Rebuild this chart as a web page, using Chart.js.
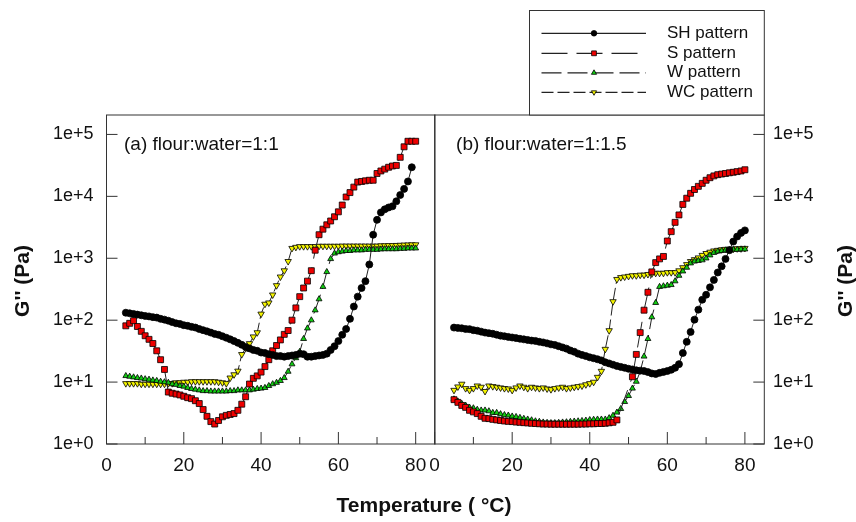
<!DOCTYPE html>
<html><head><meta charset="utf-8">
<script src="https://cdn.jsdelivr.net/npm/chart.js@4.4.1/dist/chart.umd.min.js"></script>
<style>
html,body{margin:0;padding:0;background:#fff;}
#wrap{position:relative;width:856px;height:522px;overflow:hidden;background:#fff;}
#wrap canvas{position:absolute;left:0;top:0;}
</style></head>
<body><div id="wrap"><canvas id="ca" width="856" height="522"></canvas><canvas id="cb" width="856" height="522"></canvas></div>
<script>
// ---- data ----
const temps = [5,6,7,8,9,10,11,12,13,14,15,16,17,18,19,20,21,22,23,24,25,26,27,28,29,30,31,32,33,34,35,36,37,38,39,40,41,42,43,44,45,46,47,48,49,50,51,52,53,54,55,56,57,58,59,60,61,62,63,64,65,66,67,68,69,70,71,72,73,74,75,76,77,78,79,80];

// panel (a) flour:water = 1:1
const shA = [132,129,126,123,120,117,115,112,110,105,102,98,93,89,87,83,81,78,76,72,69,66,63,60,58,55,52,49,46,43,40,37,35,33,32,30,29.5,28.2,27.5,26.3,26.3,25.7,26.3,26.9,27.5,28.8,28.2,25.7,25.7,26.3,26.9,27.5,28.8,33,38,46,58,72,105,166,240,331,427,794,2400,4170,5500,6170,6610,6920,8320,10500,13200,17400,29500,null];
const sA = [81,89,98,79,66,56,49,42,32,23,16,6.9,6.6,6.4,6.2,5.9,5.6,5.4,5.0,4.5,3.6,2.8,2.3,2.1,2.4,2.75,2.9,3.0,3.1,3.5,4.4,5.8,9.3,11.5,12.6,14.5,17.8,23,32,39,48,59,68,100,158,240,331,427,630,1350,2400,2950,3470,4000,4680,5620,7240,9770,11500,14100,17000,17400,17800,18200,18200,23400,25700,27500,29500,30900,31600,42700,63100,77600,77600,77600];
const wA = [12.6,12.3,12.0,11.7,11.5,11.2,11.0,10.7,10.5,10.2,10.0,9.8,9.3,9.1,8.7,8.5,8.1,7.8,7.6,7.4,7.2,7.2,7.1,7.1,7.1,7.1,7.1,7.2,7.2,7.4,7.4,7.4,7.4,7.6,7.8,7.9,8.1,8.7,9.3,9.8,10.5,11.7,14.8,19.5,24.5,31,50,74,100,145,219,347,603,977,1200,1260,1290,1320,1320,1350,1350,1350,1380,1380,1380,1380,1400,1410,1410,1410,1410,1430,1430,1450,1450,1450];
const wcA = [9.5,9.5,9.5,9.5,9.3,9.3,9.3,9.3,9.3,9.3,9.3,9.5,9.5,9.8,9.8,10,10,10.2,10.2,10.2,10.2,10.2,10.2,10.2,10,9.8,9.5,11.7,13.2,15.1,28,35,42,54,63,126,182,191,257,363,501,631,891,1450,1510,1550,1550,1550,1550,1550,1570,1570,1570,1570,1570,1570,1580,1580,1580,1580,1580,1580,1580,1580,1580,1580,1600,1600,1610,1610,1620,1630,1640,1650,1660,1660];

// panel (b) flour:water = 1:1.5
const shB = [75.9,75,74,72,71.6,69,67.6,65.3,63,61.7,60.3,58.2,56.2,55,53.7,52.5,51.3,50.1,49,47.9,46.8,46.2,44.7,43.7,42.2,40.7,39.8,38,36.3,34.7,32.4,30.9,28.8,27.5,26.3,25.1,24.3,23.4,22.4,20.9,20,19.1,18.2,17.6,17,16.4,16,15.5,15.3,15.1,14.5,13.8,13.5,14.1,14.6,15.1,15.8,17,19.5,29.5,44.7,64.6,102,148,214,257,339,447,589,741,977,1350,1860,2240,2570,2820];
const sB = [5.2,4.7,4.2,3.9,3.5,3.3,3.1,2.8,2.6,2.57,2.5,2.45,2.4,2.35,2.32,2.3,2.26,2.24,2.21,2.19,2.16,2.14,2.12,2.1,2.1,2.09,2.09,2.09,2.09,2.09,2.09,2.09,2.09,2.1,2.1,2.12,2.12,2.14,2.14,2.16,2.2,2.24,2.45,null,null,null,12.2,28,63,145,282,603,851,977,1070,1900,2690,3800,5010,7410,9330,11200,12900,14500,16200,18200,20000,21400,22400,22900,23400,24000,24500,25100,25700,26900];
const wB = [5.3,4.9,4.5,4.2,3.9,3.8,3.6,3.5,3.5,3.4,3.2,3.2,3.05,2.95,2.9,2.8,2.75,2.66,2.57,2.5,2.43,2.34,2.3,2.24,2.21,2.19,2.19,2.21,2.24,2.26,2.29,2.32,2.34,2.37,2.4,2.45,2.48,2.5,2.5,2.5,2.63,2.88,3.24,3.7,4.8,6.0,7.9,10.2,14.8,26,50,112,191,347,355,363,372,427,525,617,708,832,891,912,933,1000,1120,1230,1290,1320,1350,1360,1380,1380,1400,1400];
const wcB = [7.4,8.4,9.3,7.9,7.4,7.9,8.7,8.3,7.1,8.7,8.5,8.3,8.1,7.9,7.8,7.4,8.1,8.7,8.3,7.9,8.3,8.1,7.9,8.1,7.8,7.6,7.9,8.1,8.3,7.9,8.1,8.3,8.5,8.7,9.1,9.5,10,12,15,34,68,200,457,490,501,513,525,525,537,537,550,562,575,575,575,589,589,589,631,708,794,891,955,1020,1120,1200,1260,1320,1350,1380,1400,1410,1410,1430,1430,1450];

const seriesNames = ['SH pattern','S pattern','W pattern','WC pattern'];
const panelLabels = ['(a) flour:water=1:1','(b) flour:water=1:1.5'];
const xTicks = [0,10,20,30,40,50,60,70,80];
const xTickLabels = ['0','','20','','40','','60','','80'];
const yTicks = [1,10,100,1000,10000,100000];
const yTickLabels = ['1e+0','1e+1','1e+2','1e+3','1e+4','1e+5'];
const xTitle = 'Temperature ( \u00B0C)';
const yTitle = "G'' (Pa)";

// ---- styles ----
const FONT = "'Liberation Sans', Arial, Helvetica, sans-serif";
const LINE = '#222';
const styles = [
  {pointStyle:'circle', radius:3.5, bg:'#000000', dash:[], rot:0, lr:2.8},
  {pointStyle:'rect', radius:4.2, bg:'#ee0000', dash:[26,9], rot:0, lr:3.4},
  {pointStyle:'triangle', radius:3.4, bg:'#11cc11', dash:[20,6], rot:0, lr:3.0},
  {pointStyle:'triangle', radius:3.7, bg:'#f4f400', dash:[12,4], rot:180, lr:3.0}
];

function makeDatasets(lists){
  return lists.map((vals, k) => ({
    label: seriesNames[k],
    data: temps.map((t, i) => ({x: t, y: vals[i]})),
    borderColor: LINE, borderWidth: 1, borderDash: styles[k].dash,
    pointStyle: styles[k].pointStyle, pointRadius: styles[k].radius,
    pointRotation: styles[k].rot,
    pointBackgroundColor: styles[k].bg, pointBorderColor: '#000', pointBorderWidth: 0.8,
    tension: 0, spanGaps: true, fill: false
  }));
}

function frameTicks(side){
  return {
    id: 'frame' + side,
    afterDatasetsDraw(chart){
      const {ctx, chartArea: a, scales: {x, y}} = chart;
      ctx.save();
      ctx.strokeStyle = '#333'; ctx.lineWidth = 1; ctx.setLineDash([]);
      ctx.strokeRect(a.left, a.top, a.right - a.left, a.bottom - a.top);
      ctx.beginPath();
      xTicks.forEach((v, i) => {
        const px = x.getPixelForValue(v);
        const len = xTickLabels[i] ? 12 : 7;
        ctx.moveTo(px, a.bottom); ctx.lineTo(px, a.bottom - len);
      });
      yTicks.forEach(v => {
        const py = y.getPixelForValue(v);
        if (side === 'left') { ctx.moveTo(a.left, py); ctx.lineTo(a.left + 11, py); }
        else { ctx.moveTo(a.right, py); ctx.lineTo(a.right - 11, py); }
      });
      ctx.stroke();
      ctx.restore();
    }
  };
}

function drawRotated(ctx, text, x, y){
  ctx.save(); ctx.translate(x, y); ctx.rotate(-Math.PI / 2);
  ctx.textAlign = 'center'; ctx.textBaseline = 'middle';
  ctx.fillText(text, 0, 0); ctx.restore();
}

const textsA = {
  id: 'textsA',
  afterDraw(chart){
    const {ctx, chartArea: a} = chart;
    ctx.save();
    ctx.fillStyle = '#111';
    ctx.font = '19px ' + FONT; ctx.textAlign = 'left'; ctx.textBaseline = 'middle';
    ctx.fillText(panelLabels[0], a.left + 17.5, 145);
    ctx.font = 'bold 21px ' + FONT;
    drawRotated(ctx, yTitle, 23, 281);
    ctx.textAlign = 'center'; ctx.textBaseline = 'middle';
    ctx.fillText(xTitle, 424, 506);
    ctx.restore();
  }
};

const textsB = {
  id: 'textsB',
  afterDraw(chart){
    const {ctx, chartArea: a} = chart;
    ctx.save();
    ctx.fillStyle = '#111';
    ctx.font = '19px ' + FONT; ctx.textAlign = 'left'; ctx.textBaseline = 'middle';
    ctx.fillText(panelLabels[1], a.left + 21.5, 145);
    ctx.font = 'bold 21px ' + FONT;
    drawRotated(ctx, yTitle, 846, 281);
    // legend box
    const bx = 529.5, by = 10.5, bw = a.right - 529.5, bh = a.top - 10.5;
    ctx.fillStyle = '#fff'; ctx.fillRect(bx, by, bw, bh);
    ctx.strokeStyle = '#333'; ctx.lineWidth = 1; ctx.strokeRect(bx, by, bw, bh);
    const rows = [33.3, 53.3, 72.8, 92.3];
    chart.data.datasets.forEach((ds, k) => {
      const yy = rows[k];
      ctx.save();
      ctx.strokeStyle = LINE; ctx.lineWidth = 1.3; ctx.setLineDash(styles[k].dash);
      ctx.beginPath(); ctx.moveTo(541.5, yy); ctx.lineTo(646, yy); ctx.stroke();
      ctx.setLineDash([]);
      ctx.fillStyle = styles[k].bg; ctx.strokeStyle = '#000'; ctx.lineWidth = 0.8;
      Chart.helpers.drawPoint(ctx, {pointStyle: styles[k].pointStyle, radius: styles[k].lr, rotation: styles[k].rot, borderWidth: 0.8}, 594, yy);
      ctx.restore();
      ctx.fillStyle = '#111'; ctx.font = '17px ' + FONT; ctx.textAlign = 'left'; ctx.textBaseline = 'middle';
      ctx.fillText(seriesNames[k], 667, yy);
    });
    ctx.restore();
  }
};

function makeOptions(side){
  const isLeft = side === 'left';
  return {
    responsive: false, animation: false, devicePixelRatio: 1, events: [],
    layout: {padding: isLeft ? {left: 0, right: 421, top: 115, bottom: 0} : {left: 434.6, right: 0, top: 115, bottom: 0}},
    plugins: {legend: {display: false}, tooltip: {enabled: false}},
    scales: {
      x: {
        type: 'linear', min: 0, max: 85, position: 'bottom',
        afterBuildTicks: s => { s.ticks = xTicks.map(v => ({value: v})); },
        afterFit: s => { s.height = 78; s.paddingLeft = 0; s.paddingRight = 0; },
        ticks: {autoSkip: false, maxRotation: 0, minRotation: 0, padding: 10.5, color: '#111',
          font: {family: FONT, size: 19}, callback: (v, i) => xTickLabels[i]},
        grid: {display: false, drawTicks: false}, border: {display: false}
      },
      y: {
        type: 'logarithmic', min: 1, max: 206000, position: side,
        afterBuildTicks: s => { s.ticks = yTicks.map(v => ({value: v})); },
        afterFit: s => { s.width = isLeft ? 106.5 : 91.7; },
        ticks: {autoSkip: false, padding: isLeft ? 13 : 8.7, color: '#111',
          font: {family: FONT, size: 18}, callback: (v, i) => yTickLabels[i]},
        grid: {display: false, drawTicks: false}, border: {display: false}
      }
    }
  };
}

new Chart(document.getElementById('ca'), {
  type: 'line',
  data: {datasets: makeDatasets([shA, sA, wA, wcA])},
  options: makeOptions('left'),
  plugins: [frameTicks('left'), textsA]
});
new Chart(document.getElementById('cb'), {
  type: 'line',
  data: {datasets: makeDatasets([shB, sB, wB, wcB])},
  options: makeOptions('right'),
  plugins: [frameTicks('right'), textsB]
});
</script>
</body></html>
